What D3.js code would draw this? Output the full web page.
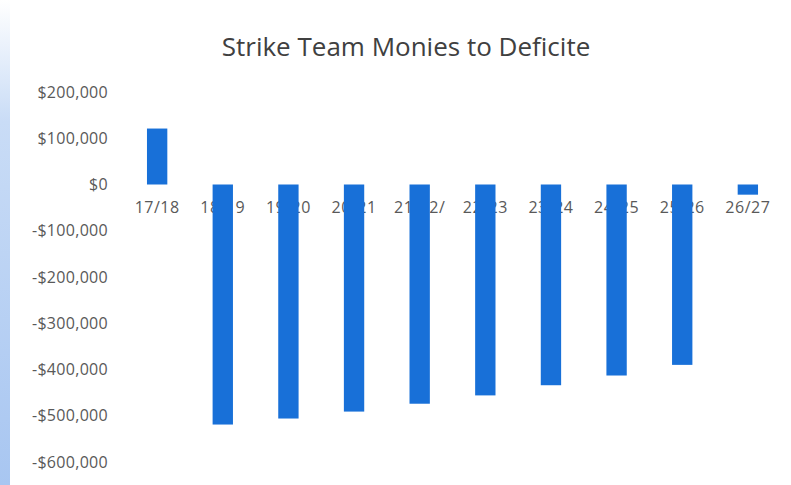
<!DOCTYPE html>
<html>
<head>
<meta charset="utf-8">
<script src="https://cdn.jsdelivr.net/npm/d3@7"></script>
<style>
  body { margin: 0; background: #fff; }
  svg { display: block; }
</style>
</head>
<body>
<div class="chart"></div>
<script>
var width = 791,
    height = 485;

// fiscal years and amount (dollars)
var years = ["17/18", "18/19", "19/20", "20/21", "21/22/", "22/23", "23/24", "24/25", "25/26", "26/27"];
var amounts = [121000, -519000, -506000, -491000, -474000, -456000, -434000, -413000, -390000, -22000];
var tickValues = [200000, 100000, 0, -100000, -200000, -300000, -400000, -500000, -600000];

var svg = d3.select(".chart").append("svg")
    .attr("width", width)
    .attr("height", height);

// scan edge, faint blue strip on the left
var grad = svg.append("defs").append("linearGradient")
    .attr("id", "edge").attr("x1", 0).attr("x2", 0).attr("y1", 0).attr("y2", 1);
grad.append("stop").attr("offset", "0%").attr("stop-color", "#fff");
grad.append("stop").attr("offset", "25%").attr("stop-color", "#c9dcf6");
grad.append("stop").attr("offset", "100%").attr("stop-color", "#a8c6f1");
svg.append("rect")
    .attr("x", 0).attr("y", 0)
    .attr("width", 10).attr("height", height)
    .attr("fill", "url(#edge)");

var x = d3.scaleBand()
    .domain(years)
    .range([124, 781])
    .paddingInner(0.69)
    .paddingOuter(0.35);

var y = d3.scaleLinear()
    .domain([-600000, 200000])
    .range([462, 92]);

var fmt = function(v) {
  var s = "$" + d3.format(",")(Math.abs(v));
  return v < 0 ? "-" + s : s;
};

svg.append("text")
    .attr("x", 406)
    .attr("y", 56)
    .attr("text-anchor", "middle")
    .attr("font-family", "Open Sans, sans-serif")
    .attr("font-size", 26)
    .attr("fill", "#404040")
    .text("Strike Team Monies to Deficite");

var yAxis = svg.append("g")
    .attr("transform", "translate(108,0)")
    .call(d3.axisLeft(y).tickValues(tickValues).tickFormat(fmt).tickSize(0).tickPadding(0));
yAxis.select(".domain").remove();
yAxis.selectAll("text")
    .attr("font-family", "Open Sans, sans-serif")
    .attr("font-size", 16)
    .attr("letter-spacing", 0.3)
    .attr("fill", "#595959");

// category labels sit under the bars
var xAxis = svg.append("g")
    .attr("transform", "translate(0," + y(0) + ")")
    .call(d3.axisBottom(x).tickSize(0).tickPadding(17));
xAxis.select(".domain").remove();
xAxis.selectAll("text")
    .attr("font-family", "Open Sans, sans-serif")
    .attr("font-size", 16)
    .attr("letter-spacing", 0.5)
    .attr("fill", "#595959");

svg.append("g").selectAll("rect")
    .data(amounts)
    .enter().append("rect")
    .attr("x", function(d, i) { return x(years[i]); })
    .attr("y", function(d) { return y(Math.max(0, d)); })
    .attr("width", x.bandwidth())
    .attr("height", function(d) { return Math.abs(y(d) - y(0)); })
    .attr("fill", "#1870d8");
</script>
</body>
</html>
